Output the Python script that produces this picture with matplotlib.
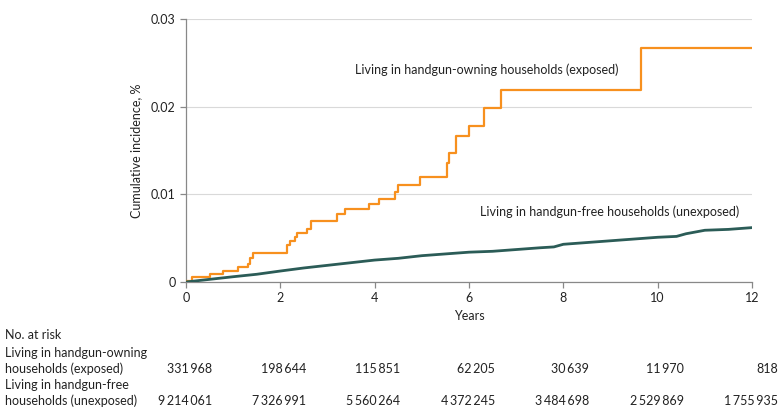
import matplotlib.pyplot as plt
import matplotlib.transforms as mtransforms

# ----------------------------
# DATOS
# ----------------------------

# Living in handgun-owning households (exposed): step times / cumulative incidence
exp_t = [0, 0.13, 0.51, 0.79, 1.11, 1.31, 1.36, 1.43, 2.15, 2.20, 2.32, 2.35,
         2.56, 2.66, 3.21, 3.37, 3.88, 4.10, 4.43, 4.50, 4.96, 5.54, 5.58,
         5.72, 5.99, 6.32, 6.68, 9.65, 12]
exp_v = [0.0001, 0.0006, 0.0009, 0.00125, 0.00175, 0.0020, 0.00277, 0.00334,
         0.00422, 0.00467, 0.00517, 0.00562, 0.0060, 0.00696, 0.00775, 0.00829,
         0.00886, 0.0095, 0.0103, 0.0111, 0.0120, 0.0136, 0.0147, 0.0166,
         0.0178, 0.0198, 0.0219, 0.0267, 0.0267]

# Living in handgun-free households (unexposed)
unexp_t = [0, 0.5, 1, 1.5, 2, 2.5, 3, 3.5, 4, 4.5, 5, 5.5, 6, 6.5, 7, 7.5,
           7.8, 8, 8.5, 9, 9.5, 10, 10.4, 10.6, 10.9, 11, 11.5, 12]
unexp_v = [0, 0.0003, 0.0006, 0.00088, 0.00125, 0.0016, 0.0019, 0.0022,
           0.0025, 0.0027, 0.0030, 0.0032, 0.0034, 0.0035, 0.0037, 0.0039,
           0.0040, 0.0043, 0.0045, 0.0047, 0.0049, 0.0051, 0.0052, 0.0055,
           0.0058, 0.0059, 0.0060, 0.0062]

risk_years = [0, 2, 4, 6, 8, 10, 12]
risk_exposed = [331968, 198644, 115851, 62205, 30639, 11970, 818]
risk_unexposed = [9214061, 7326991, 5560264, 4372245, 3484698, 2529869, 1755935]

# ----------------------------
# ESTILO
# ----------------------------

plt.rcParams["font.family"] = ["Lato", "DejaVu Sans"]
FS = 9

color_exp = "#F7901E"
color_unexp = "#2B5C57"
color_text = "#222222"

fig = plt.figure(figsize=(7.83, 4.19), dpi=100)
ax = fig.add_axes([0.2375, 0.327, 0.7229, 0.6277])

ax.step(exp_t, exp_v, where="post", color=color_exp, lw=1.6, zorder=3)
ax.plot(unexp_t, unexp_v, color=color_unexp, lw=2.0, zorder=4)

ax.set_xlim(0, 12)
ax.set_ylim(0, 0.03)
ax.set_xticks([0, 2, 4, 6, 8, 10, 12])
ax.set_yticks([0, 0.01, 0.02, 0.03])
ax.set_yticklabels(["0", "0.01", "0.02", "0.03"])

ax.grid(axis="y", color="#d9d9d9", lw=0.8)
ax.set_axisbelow(True)

for s in ["top", "right"]:
    ax.spines[s].set_visible(False)
for s in ["left", "bottom"]:
    ax.spines[s].set_color("#888888")
    ax.spines[s].set_linewidth(0.9)
ax.tick_params(colors="#888888", labelcolor=color_text, length=4, width=0.9,
               labelsize=FS)

ax.set_xlabel("Years", color=color_text, fontsize=FS, labelpad=4)
ax.set_ylabel("Cumulative incidence, %", color=color_text, fontsize=FS,
              labelpad=6)

ax.text(3.58, 0.0242, "Living in handgun-owning households (exposed)",
        color=color_text, fontsize=FS, va="center")
ax.text(6.23, 0.0080, "Living in handgun-free households (unexposed)",
        color=color_text, fontsize=FS, va="center")

# ----------------------------
# TABLA DE RIESGO
# ----------------------------

trans = mtransforms.blended_transform_factory(ax.transData, fig.transFigure)


def fmt(n):
    s = f"{n:,}"
    return s.replace(",", "\u2009")


rows = [("No. at risk", 335), ("Living in handgun-owning", 353),
        ("households (exposed)", 369), ("Living in handgun-free", 385),
        ("households (unexposed)", 401)]
for txt, py in rows:
    fig.text(0.006, 1 - py / 419, txt, color=color_text, va="center",
             fontsize=FS)

for x, a, b in zip(risk_years, risk_exposed, risk_unexposed):
    ax.text(x + 0.55, 1 - 369 / 419, fmt(a), transform=trans, ha="right",
            va="center", color=color_text, fontsize=FS)
    ax.text(x + 0.55, 1 - 401 / 419, fmt(b), transform=trans, ha="right",
            va="center", color=color_text, fontsize=FS)

fig.savefig("out.png", dpi=100)
